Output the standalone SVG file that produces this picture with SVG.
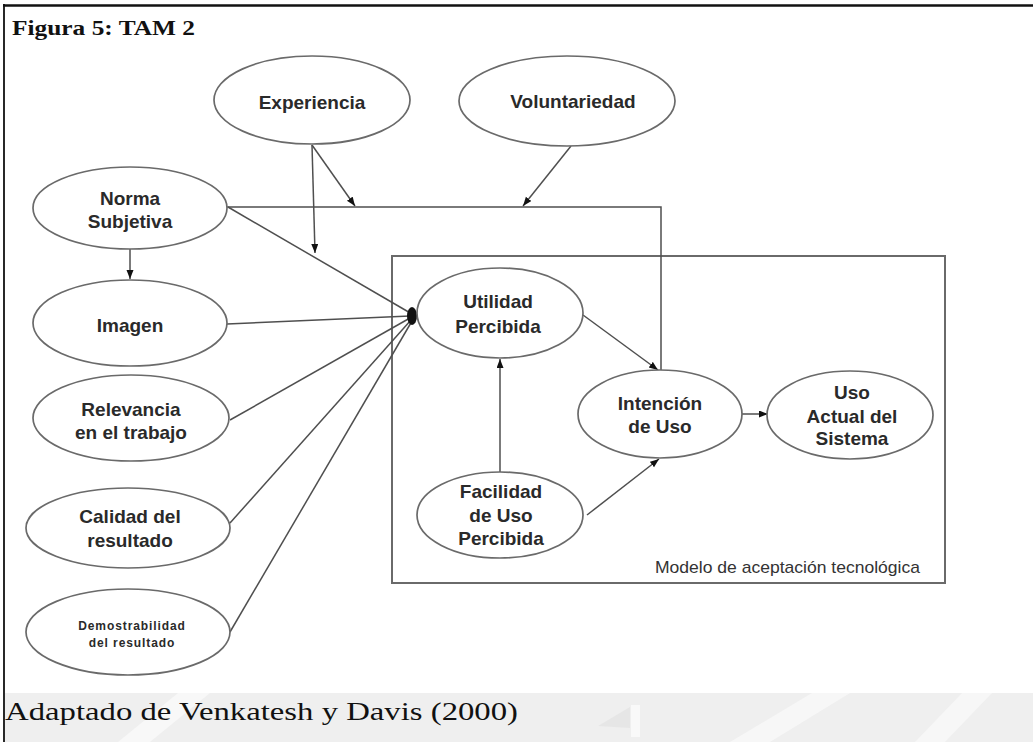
<svg xmlns="http://www.w3.org/2000/svg" width="1033" height="742" viewBox="0 0 1033 742">
  <style>
    .node ellipse { fill: #ffffff; stroke: #6a6a6a; stroke-width: 1.7; }
    .lbl { font-family: "Liberation Sans", Arial, sans-serif; font-weight: bold; font-size: 19px; fill: #2a2a2a; text-anchor: middle; }
    .small { font-size: 12px; letter-spacing: 0.9px; }
    .conn line, .conn path { stroke: #4f4f4f; stroke-width: 1.5; fill: none; }
    .arrow { marker-end: url(#head); }
    .serif { font-family: "Liberation Serif", "Times New Roman", serif; fill: #111111; }
  </style>
  <defs>
    <marker id="head" markerUnits="userSpaceOnUse" markerWidth="10" markerHeight="8" refX="9" refY="3.5" orient="auto">
      <path d="M0,0 L9,3.5 L0,7 z" fill="#111111"/>
    </marker>
  </defs>

  <!-- page background -->
  <rect x="0" y="0" width="1033" height="742" fill="#ffffff"/>

  <!-- footer band with faint seal -->
  <g id="footer-band">
    <rect x="5" y="693" width="1028" height="49" fill="#efefef"/>
    <polygon points="118,742 150,742 210,693 178,693" fill="#f8f8f8"/>
    <polygon points="598,726 630,707 630,728" fill="#e6e6e6"/>
    <rect x="631" y="705" width="9" height="32" fill="#f9f9f9"/>
    <polygon points="730,742 770,742 850,693 812,693" fill="#f7f7f7"/>
    <polygon points="915,742 945,742 992,693 962,693" fill="#f7f7f7"/>
  </g>

  <!-- figure frame -->
  <g id="frame">
    <line x1="3" y1="5.5" x2="1033" y2="5.5" stroke="#111111" stroke-width="2.5"/>
    <line x1="4" y1="4" x2="4" y2="742" stroke="#111111" stroke-width="1.8"/>
  </g>

  <text id="title" class="serif" x="12" y="35" font-size="21" font-weight="bold" textLength="183" lengthAdjust="spacingAndGlyphs">Figura 5: TAM 2</text>

  <!-- technology acceptance model box -->
  <g id="tam-box">
    <rect x="392" y="256" width="553" height="327" fill="none" stroke="#6a6a6a" stroke-width="2"/>
    <text x="655" y="573" font-family="'Liberation Sans', Arial, sans-serif" font-size="17" fill="#333333" textLength="265" lengthAdjust="spacingAndGlyphs">Modelo de aceptación tecnológica</text>
  </g>

  <!-- connectors -->
  <g id="connectors" class="conn">
    <path d="M227,207 H661 V370"/>
    <line class="arrow" x1="312" y1="145" x2="315" y2="253"/>
    <line class="arrow" x1="312" y1="145" x2="355" y2="206"/>
    <line class="arrow" x1="571" y1="146" x2="523" y2="206"/>
    <line x1="228" y1="207" x2="412" y2="314"/>
    <line class="arrow" x1="130" y1="249" x2="130" y2="279"/>
    <line x1="227" y1="324" x2="410" y2="316"/>
    <line x1="230" y1="420" x2="410" y2="318"/>
    <line x1="230" y1="523" x2="411" y2="320"/>
    <line x1="230" y1="632" x2="412" y2="321"/>
    <line class="arrow" x1="500" y1="472" x2="500" y2="359"/>
    <line class="arrow" x1="583" y1="315" x2="658" y2="370"/>
    <line class="arrow" x1="587" y1="515" x2="659" y2="459"/>
    <line class="arrow" x1="742" y1="414" x2="768" y2="414"/>
    <ellipse cx="412" cy="316" rx="5" ry="9" fill="#111111" stroke="none"/>
  </g>

  <!-- nodes -->
  <g id="experiencia" class="node">
    <ellipse cx="312" cy="100" rx="98" ry="44"/>
    <text class="lbl" x="312" y="109" font-size="18.5">Experiencia</text>
  </g>
  <g id="voluntariedad" class="node">
    <ellipse cx="567" cy="101" rx="108" ry="45"/>
    <text class="lbl" x="573" y="108" font-size="17">Voluntariedad</text>
  </g>
  <g id="norma-subjetiva" class="node">
    <ellipse cx="130" cy="208" rx="97" ry="41"/>
    <text class="lbl" x="130" y="205">Norma</text>
    <text class="lbl" x="130" y="228">Subjetiva</text>
  </g>
  <g id="imagen" class="node">
    <ellipse cx="130" cy="323" rx="97" ry="43"/>
    <text class="lbl" x="130" y="332">Imagen</text>
  </g>
  <g id="relevancia" class="node">
    <ellipse cx="131" cy="418" rx="98" ry="43"/>
    <text class="lbl" x="131" y="416">Relevancia</text>
    <text class="lbl" x="131" y="439">en el trabajo</text>
  </g>
  <g id="calidad" class="node">
    <ellipse cx="128" cy="528" rx="102" ry="40"/>
    <text class="lbl" x="130" y="523">Calidad del</text>
    <text class="lbl" x="130" y="547">resultado</text>
  </g>
  <g id="demostrabilidad" class="node">
    <ellipse cx="128" cy="632" rx="102" ry="43"/>
    <text class="lbl small" x="132" y="630">Demostrabilidad</text>
    <text class="lbl small" x="132" y="647">del resultado</text>
  </g>
  <g id="utilidad" class="node">
    <ellipse cx="500" cy="313" rx="83" ry="45"/>
    <text class="lbl" x="498" y="308">Utilidad</text>
    <text class="lbl" x="498" y="333">Percibida</text>
  </g>
  <g id="facilidad" class="node">
    <ellipse cx="500" cy="515" rx="83" ry="43"/>
    <text class="lbl" x="501" y="498">Facilidad</text>
    <text class="lbl" x="501" y="522">de Uso</text>
    <text class="lbl" x="501" y="545">Percibida</text>
  </g>
  <g id="intencion" class="node">
    <ellipse cx="660" cy="414" rx="82" ry="44"/>
    <text class="lbl" x="660" y="410">Intención</text>
    <text class="lbl" x="660" y="433">de Uso</text>
  </g>
  <g id="uso-actual" class="node">
    <ellipse cx="850" cy="415" rx="83" ry="44"/>
    <text class="lbl" x="852" y="399">Uso</text>
    <text class="lbl" x="852" y="423">Actual del</text>
    <text class="lbl" x="852" y="445">Sistema</text>
  </g>

  <text id="source" class="serif" x="5" y="720" font-size="26" textLength="513" lengthAdjust="spacingAndGlyphs">Adaptado de Venkatesh y Davis (2000)</text>
</svg>
